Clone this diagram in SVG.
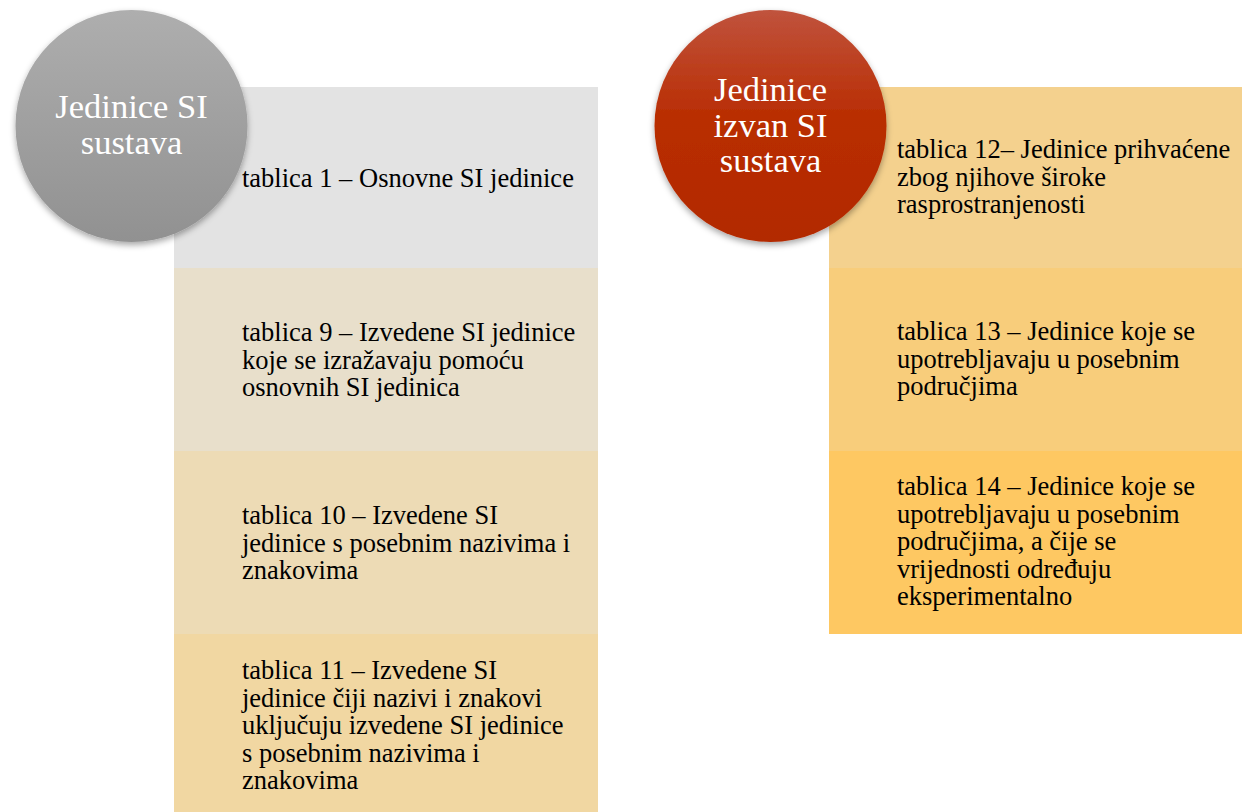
<svg xmlns="http://www.w3.org/2000/svg" width="1242" height="812" viewBox="0 0 1242 812">
<defs>
<linearGradient id="gGray" x1="0" y1="0" x2="0" y2="1">
<stop offset="0" stop-color="#AEAEAE"/>
<stop offset="1" stop-color="#919191"/>
</linearGradient>
<linearGradient id="gRed" x1="0" y1="0" x2="0" y2="1">
<stop offset="0" stop-color="#C0533D"/>
<stop offset="0.45" stop-color="#B92E04"/>
<stop offset="1" stop-color="#B22900"/>
</linearGradient>
<filter id="sh" x="-20%" y="-20%" width="140%" height="150%">
<feDropShadow dx="0" dy="3" stdDeviation="3" flood-color="#000" flood-opacity="0.35"/>
</filter>
<style>
.t{font-family:"Liberation Serif","Times New Roman",serif;font-size:26.5px;fill:#000}
.c{font-family:"Liberation Serif","Times New Roman",serif;font-size:34.5px;fill:#fff;text-anchor:middle}
</style>
</defs>
<rect width="1242" height="812" fill="#fff"/>
<g id="left-boxes">
<g id="box-t1"><rect x="174" y="87" width="424" height="181" fill="#E3E3E3"/>
<text class="t" x="242" y="187">tablica 1 – Osnovne SI jedinice</text></g>
<g id="box-t9"><rect x="174" y="268" width="424" height="183" fill="#E8DFCB"/>
<text class="t" x="242" y="341">tablica 9 – Izvedene SI jedinice</text>
<text class="t" x="242" y="368.5">koje se izražavaju pomoću</text>
<text class="t" x="242" y="396">osnovnih SI jedinica</text></g>
<g id="box-t10"><rect x="174" y="451" width="424" height="183" fill="#EDDBB5"/>
<text class="t" x="242" y="524">tablica 10 – Izvedene SI</text>
<text class="t" x="242" y="551.5">jedinice s posebnim nazivima i</text>
<text class="t" x="242" y="579">znakovima</text></g>
<g id="box-t11"><rect x="174" y="634" width="424" height="178" fill="#F1D7A2"/>
<text class="t" x="242" y="679">tablica 11 – Izvedene SI</text>
<text class="t" x="242" y="706.5">jedinice čiji nazivi i znakovi</text>
<text class="t" x="242" y="734">uključuju izvedene SI jedinice</text>
<text class="t" x="242" y="761.5">s posebnim nazivima i</text>
<text class="t" x="242" y="789">znakovima</text></g>
</g>
<g id="right-boxes">
<g id="box-t12"><rect x="829" y="87" width="413" height="181" fill="#F4D18E"/>
<text class="t" x="897" y="158">tablica 12– Jedinice prihvaćene</text>
<text class="t" x="897" y="185.5">zbog njihove široke</text>
<text class="t" x="897" y="213">rasprostranjenosti</text></g>
<g id="box-t13"><rect x="829" y="268" width="413" height="183" fill="#F8CD7B"/>
<text class="t" x="897" y="340">tablica 13 – Jedinice koje se</text>
<text class="t" x="897" y="367.5">upotrebljavaju u posebnim</text>
<text class="t" x="897" y="395">područjima</text></g>
<g id="box-t14"><rect x="829" y="451" width="413" height="183" fill="#FEC862"/>
<text class="t" x="897" y="495">tablica 14 – Jedinice koje se</text>
<text class="t" x="897" y="522.5">upotrebljavaju u posebnim</text>
<text class="t" x="897" y="550">područjima, a čije se</text>
<text class="t" x="897" y="577.5">vrijednosti određuju</text>
<text class="t" x="897" y="605">eksperimentalno</text></g>
</g>
<g id="circle-si">
<circle cx="131.5" cy="126" r="116" fill="url(#gGray)" filter="url(#sh)"/>
<text class="c" x="131.5" y="118">Jedinice SI</text>
<text class="c" x="131.5" y="154">sustava</text>
</g>
<g id="circle-non-si">
<circle cx="770.5" cy="126" r="116" fill="url(#gRed)" filter="url(#sh)"/>
<text class="c" x="770.5" y="101">Jedinice</text>
<text class="c" x="770.5" y="137">izvan SI</text>
<text class="c" x="770.5" y="172">sustava</text>
</g>
<g id="connectors"/>
</svg>
